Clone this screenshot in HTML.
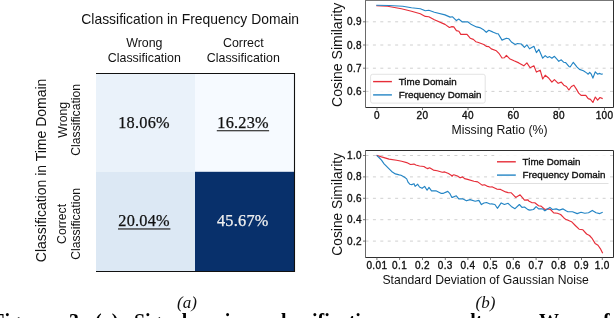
<!DOCTYPE html>
<html><head><meta charset="utf-8"><style>
html,body{margin:0;padding:0;background:#fff;width:614px;height:318px;overflow:hidden}
svg{display:block;will-change:transform}
</style></head><body>
<svg width="614" height="318" viewBox="0 0 614 318">
<rect x="96" y="73.5" width="99" height="98.30000000000001" fill="#eaf2fa"/>
<rect x="195" y="73.5" width="99.5" height="98.30000000000001" fill="#f6faff"/>
<rect x="96" y="171.8" width="99" height="99.69999999999999" fill="#dce8f4"/>
<rect x="195" y="171.8" width="99.5" height="99.69999999999999" fill="#08306b"/>
<polyline points="96,73.5 294.5,73.5 294.5,271.5 96,271.5" fill="none" stroke="#111" stroke-width="1.1"/>
<g font-family="Liberation Sans, sans-serif" fill="#111">
<text x="190.2" y="23.7" font-size="13.9" text-anchor="middle">Classification in Frequency Domain</text>
<text x="144.3" y="46.9" font-size="12.4" text-anchor="middle">Wrong</text>
<text x="144.3" y="62" font-size="12.4" text-anchor="middle">Classification</text>
<text x="243.3" y="46.9" font-size="12.4" text-anchor="middle">Correct</text>
<text x="243.3" y="62" font-size="12.4" text-anchor="middle">Classification</text>
<text transform="translate(46.3,170.4) rotate(-90)" font-size="14" text-anchor="middle">Classification in Time Domain</text>
<text transform="translate(66.5,119.8) rotate(-90)" font-size="12.2" text-anchor="middle">Wrong</text>
<text transform="translate(80.1,119.8) rotate(-90)" font-size="12.2" text-anchor="middle">Classification</text>
<text transform="translate(65.9,223.9) rotate(-90)" font-size="12.2" text-anchor="middle">Correct</text>
<text transform="translate(80.1,223.9) rotate(-90)" font-size="12.2" text-anchor="middle">Classification</text>
</g>
<g font-family="Liberation Serif, serif" font-size="16.3" letter-spacing="0.25" stroke-width="0.25">
<text x="144" y="127.8" text-anchor="middle" fill="#111" stroke="#111">18.06%</text>
<text x="243.1" y="127.8" text-anchor="middle" fill="#111" stroke="#111">16.23%</text>
<text x="144.1" y="226.1" text-anchor="middle" fill="#111" stroke="#111">20.04%</text>
<text x="242.8" y="226.1" text-anchor="middle" fill="#f0f0f0" stroke="#f0f0f0">45.67%</text>
</g>
<rect x="216.8" y="130.1" width="52.3" height="1.2" fill="#333"/>
<rect x="118" y="228.3" width="52.4" height="1.3" fill="#333"/>
<g font-family="Liberation Serif, serif" font-size="17" font-style="italic" fill="#111">
<text x="187" y="307.6" text-anchor="middle">(a)</text>
<text x="485.5" y="307.6" text-anchor="middle">(b)</text>
</g>
<line x1="365.5" y1="91.4" x2="613.5" y2="91.4" stroke="#d0d0d0" stroke-width="1" stroke-dasharray="3,4.41"/>
<line x1="365.5" y1="68.2" x2="613.5" y2="68.2" stroke="#d0d0d0" stroke-width="1" stroke-dasharray="3,4.41"/>
<line x1="365.5" y1="45.0" x2="613.5" y2="45.0" stroke="#d0d0d0" stroke-width="1" stroke-dasharray="3,4.41"/>
<line x1="365.5" y1="21.8" x2="613.5" y2="21.8" stroke="#d0d0d0" stroke-width="1" stroke-dasharray="3,4.41"/>
<line x1="365.5" y1="241.1" x2="613.5" y2="241.1" stroke="#d0d0d0" stroke-width="1" stroke-dasharray="3,4.41"/>
<line x1="365.5" y1="219.7" x2="613.5" y2="219.7" stroke="#d0d0d0" stroke-width="1" stroke-dasharray="3,4.41"/>
<line x1="365.5" y1="198.3" x2="613.5" y2="198.3" stroke="#d0d0d0" stroke-width="1" stroke-dasharray="3,4.41"/>
<line x1="365.5" y1="176.9" x2="613.5" y2="176.9" stroke="#d0d0d0" stroke-width="1" stroke-dasharray="3,4.41"/>
<line x1="365.5" y1="155.5" x2="613.5" y2="155.5" stroke="#d0d0d0" stroke-width="1" stroke-dasharray="3,4.41"/>
<polyline points="376.3,5.8 387.6,6.3 401.4,8.8 411.5,11.3 420.3,13.8 425.3,16.4 428.8,16.7 434.4,19.7 445.0,24.4 449.4,27.5 451.9,26.6 453.8,26.9 456.4,30.6 458.9,31.3 460.8,34.4 467.0,34.4 470.2,38.2 473.3,39.4 475.8,41.7 477.7,42.2 483.8,44.5 486.3,46.4 488.8,46.6 491.3,48.9 496.4,50.8 498.9,53.3 502.0,58.0 504.5,57.7 506.4,55.4 509.6,58.7 514.0,60.8 518.8,62.9 523.8,65.8 526.9,62.9 530.1,67.7 533.9,65.8 536.4,72.1 540.2,70.2 542.7,79.0 545.2,75.2 548.3,77.7 551.9,82.1 554.4,79.6 558.2,83.3 561.3,82.1 563.8,85.2 566.4,86.5 568.9,90.0 571.4,86.5 573.9,85.2 576.4,89.1 578.7,93.1 581.1,95.4 585.8,95.4 588.2,98.6 590.5,99.4 592.9,102.5 595.3,97.0 597.6,100.2 600.0,97.5 602.7,98.6" fill="none" stroke="#e62d38" stroke-width="1.15" stroke-linejoin="round"/>
<polyline points="376.3,5.3 388.9,5.5 402.7,6.3 411.5,7.8 420.3,8.8 425.3,10.7 428.8,10.3 434.4,12.2 445.0,14.9 450.1,17.1 452.6,16.8 456.4,20.6 458.9,19.1 462.0,21.8 467.7,21.8 471.4,24.6 476.5,26.9 479.7,27.6 483.1,29.4 486.3,32.3 488.8,30.3 492.6,31.9 496.4,33.6 498.2,33.8 502.0,40.1 506.4,38.2 508.9,38.8 511.4,42.0 515.2,44.5 517.5,43.5 521.3,44.0 524.4,47.3 526.9,44.8 529.5,48.8 533.9,46.3 536.4,52.6 538.9,49.4 542.7,58.2 545.2,55.7 547.7,57.6 549.6,56.6 551.9,58.2 554.4,56.3 556.9,59.1 558.8,61.3 561.3,59.8 563.8,62.3 565.7,62.6 568.9,66.4 570.1,67.0 573.3,62.3 577.1,67.1 579.5,69.4 583.4,70.7 586.6,72.9 588.2,74.2 589.7,72.3 591.3,74.2 592.9,78.1 595.3,71.8 597.6,74.2 599.2,73.4 601.6,74.2 602.7,73.9" fill="none" stroke="#2485c5" stroke-width="1.15" stroke-linejoin="round"/>
<polyline points="376.6,155.3 381.5,156.9 389.1,159.1 396.6,160.3 401.7,161.3 406.7,162.6 410.5,164.5 414.0,164.1 415.8,165.0 419.5,166.0 423.9,166.5 425.8,167.8 427.7,168.6 429.6,167.8 433.4,170.1 437.2,170.7 442.2,172.3 444.7,171.9 448.5,173.6 451.9,175.7 452.0,176.4 452.4,175.5 453.8,174.8 457.5,176.0 460.1,177.8 462.6,176.9 464.5,178.6 467.6,179.4 473.9,181.3 477.7,181.9 482.1,185.1 484.6,184.8 487.7,186.4 490.0,187.0 492.4,186.9 496.8,189.1 500.6,189.4 505.6,191.9 508.1,192.6 511.3,192.8 515.7,197.4 520.1,194.8 524.5,200.1 528.0,199.9 529.1,201.3 531.7,202.6 534.8,202.8 538.6,205.7 541.1,206.1 544.9,209.5 548.0,208.9 550.5,209.5 553.7,212.9 557.4,213.3 560.6,214.5 563.7,217.7 566.0,219.6 566.8,219.8 571.5,221.7 575.3,225.5 579.1,229.2 582.9,229.8 586.6,234.0 589.5,235.5 592.3,238.7 595.1,243.4 598.0,245.3 600.8,249.4 602.7,253.2" fill="none" stroke="#e62d38" stroke-width="1.15" stroke-linejoin="round"/>
<polyline points="376.6,155.3 379.0,157.5 381.5,160.1 384.1,163.8 386.6,166.4 389.1,168.9 391.6,171.4 395.4,173.9 399.2,174.9 401.0,175.2 404.2,177.0 406.7,178.9 408.0,182.1 409.8,184.2 411.7,184.6 414.0,183.7 415.1,186.4 417.7,184.2 419.5,187.0 422.1,188.3 424.6,186.4 427.1,190.2 429.0,187.4 431.5,190.8 435.9,190.8 440.9,193.3 443.4,193.3 447.8,191.4 449.7,193.3 451.9,197.4 452.0,197.1 452.4,197.4 456.3,195.8 458.8,198.9 462.6,198.7 466.4,200.8 470.1,199.6 475.2,201.2 478.9,200.4 481.4,204.6 484.0,203.0 486.5,202.5 490.0,204.0 491.8,203.9 494.9,204.5 497.4,208.3 501.2,202.9 504.4,204.5 508.1,203.3 511.3,206.4 515.0,208.7 519.4,204.5 522.0,207.4 524.5,207.0 528.0,209.6 529.8,210.1 533.5,209.5 536.1,206.6 538.6,208.9 542.4,208.9 544.9,210.8 549.9,207.4 552.4,209.5 556.2,208.9 559.3,210.1 563.1,208.9 566.0,210.8 567.8,211.7 572.5,211.7 577.2,213.6 581.0,212.3 584.8,213.2 588.5,212.8 592.3,210.4 596.1,212.8 599.8,213.6 602.7,212.3" fill="none" stroke="#2485c5" stroke-width="1.15" stroke-linejoin="round"/>
<rect x="370.6" y="74.3" width="114.6" height="28.8" rx="2" fill="#fff" fill-opacity="0.85" stroke="#dcdcdc" stroke-width="0.8"/>
<line x1="373.1" y1="81.6" x2="391.9" y2="81.6" stroke="#e62d38" stroke-width="1.4"/>
<line x1="373.1" y1="94.9" x2="391.9" y2="94.9" stroke="#2485c5" stroke-width="1.4"/>
<rect x="494.4" y="152.5" width="114.6" height="31" rx="2" fill="#fff" fill-opacity="0.85"/>
<polyline points="494.4,183.5 608.5,183.5" fill="none" stroke="#dcdcdc" stroke-width="0.9"/>
<line x1="497" y1="161.8" x2="515.8" y2="161.8" stroke="#e62d38" stroke-width="1.4"/>
<line x1="497" y1="175.1" x2="515.8" y2="175.1" stroke="#2485c5" stroke-width="1.4"/>
<g font-family="Liberation Sans, sans-serif" font-size="9.8" fill="#111" stroke="#111" stroke-width="0.35">
<text x="398.7" y="85.2">Time Domain</text>
<text x="398.7" y="97.9">Frequency Domain</text>
<text x="522.6" y="165.3">Time Domain</text>
<text x="522.6" y="178.4">Frequency Domain</text>
</g>
<polyline points="365.5,107.5 613.5,107.5 613.5,0" fill="none" stroke="#2e2e2e" stroke-width="1"/>
<line x1="365.5" y1="0" x2="365.5" y2="107.5" stroke="#6a6a6a" stroke-width="1"/>
<line x1="365.5" y1="0.5" x2="613.5" y2="0.5" stroke="#777" stroke-width="1"/>
<polyline points="365.5,150.5 613.5,150.5 613.5,257.5 365.5,257.5" fill="none" stroke="#2e2e2e" stroke-width="1"/>
<line x1="365.5" y1="150.0" x2="365.5" y2="258.0" stroke="#6a6a6a" stroke-width="1"/>
<g stroke="#555" stroke-width="0.8"><line x1="363.0" y1="91.4" x2="365.5" y2="91.4"/><line x1="363.0" y1="68.2" x2="365.5" y2="68.2"/><line x1="363.0" y1="45.0" x2="365.5" y2="45.0"/><line x1="363.0" y1="21.8" x2="365.5" y2="21.8"/><line x1="363.0" y1="241.1" x2="365.5" y2="241.1"/><line x1="363.0" y1="219.7" x2="365.5" y2="219.7"/><line x1="363.0" y1="198.3" x2="365.5" y2="198.3"/><line x1="363.0" y1="176.9" x2="365.5" y2="176.9"/><line x1="363.0" y1="155.5" x2="365.5" y2="155.5"/><line x1="377.0" y1="107.5" x2="377.0" y2="110.0"/><line x1="422.5" y1="107.5" x2="422.5" y2="110.0"/><line x1="468.0" y1="107.5" x2="468.0" y2="110.0"/><line x1="513.5" y1="107.5" x2="513.5" y2="110.0"/><line x1="559.0" y1="107.5" x2="559.0" y2="110.0"/><line x1="604.5" y1="107.5" x2="604.5" y2="110.0"/><line x1="376.9" y1="257.5" x2="376.9" y2="260.0"/><line x1="399.6" y1="257.5" x2="399.6" y2="260.0"/><line x1="422.5" y1="257.5" x2="422.5" y2="260.0"/><line x1="445.3" y1="257.5" x2="445.3" y2="260.0"/><line x1="467.9" y1="257.5" x2="467.9" y2="260.0"/><line x1="490.5" y1="257.5" x2="490.5" y2="260.0"/><line x1="513.3" y1="257.5" x2="513.3" y2="260.0"/><line x1="536.1" y1="257.5" x2="536.1" y2="260.0"/><line x1="558.7" y1="257.5" x2="558.7" y2="260.0"/><line x1="581.5" y1="257.5" x2="581.5" y2="260.0"/><line x1="602.3" y1="257.5" x2="602.3" y2="260.0"/></g>
<g font-family="Liberation Sans, sans-serif" font-size="10" fill="#111" letter-spacing="0.35" stroke="#111" stroke-width="0.35">
<text x="362" y="94.9" text-anchor="end">0.6</text>
<text x="362" y="71.7" text-anchor="end">0.7</text>
<text x="362" y="48.5" text-anchor="end">0.8</text>
<text x="362" y="25.3" text-anchor="end">0.9</text>
<text x="362" y="244.6" text-anchor="end">0.2</text>
<text x="362" y="223.2" text-anchor="end">0.4</text>
<text x="362" y="201.8" text-anchor="end">0.6</text>
<text x="362" y="180.4" text-anchor="end">0.8</text>
<text x="362" y="159.0" text-anchor="end">1.0</text>
<text x="377.0" y="118.5" text-anchor="middle">0</text>
<text x="422.5" y="118.5" text-anchor="middle">20</text>
<text x="468.0" y="118.5" text-anchor="middle">40</text>
<text x="513.5" y="118.5" text-anchor="middle">60</text>
<text x="559.0" y="118.5" text-anchor="middle">80</text>
<text x="604.5" y="118.5" text-anchor="middle">100</text>
<text x="376.9" y="268.5" text-anchor="middle">0.01</text>
<text x="399.6" y="268.5" text-anchor="middle">0.1</text>
<text x="422.5" y="268.5" text-anchor="middle">0.2</text>
<text x="445.3" y="268.5" text-anchor="middle">0.3</text>
<text x="467.9" y="268.5" text-anchor="middle">0.4</text>
<text x="490.5" y="268.5" text-anchor="middle">0.5</text>
<text x="513.3" y="268.5" text-anchor="middle">0.6</text>
<text x="536.1" y="268.5" text-anchor="middle">0.7</text>
<text x="558.7" y="268.5" text-anchor="middle">0.8</text>
<text x="581.5" y="268.5" text-anchor="middle">0.9</text>
<text x="602.3" y="268.5" text-anchor="middle">1.0</text>
</g>
<g font-family="Liberation Sans, sans-serif" fill="#111">
<text transform="translate(342,54.8) rotate(-90)" font-size="14" text-anchor="middle">Cosine Similarity</text>
<text transform="translate(342,204.3) rotate(-90)" font-size="13.8" text-anchor="middle">Cosine Similarity</text>
<text x="499.5" y="133.8" font-size="12.25" text-anchor="middle">Missing Ratio (%)</text>
<text x="485.6" y="283.7" font-size="12.18" text-anchor="middle">Standard Deviation of Gaussian Noise</text>
</g>
<g font-family="Liberation Serif, serif" font-weight="bold" font-size="20" fill="#000"><text x="-7.8" y="328.1">Figure</text><text x="69" y="328.1">3:</text><text x="95" y="328.1">(a)</text><text x="134" y="328.1">Signal</text><text x="203.7" y="328.1">naive</text><text x="272" y="328.1">classification</text><text x="434" y="328.1">results.</text><text x="539" y="328.1">We</text><text x="603" y="328.1">f</text></g>
</svg>
</body></html>
